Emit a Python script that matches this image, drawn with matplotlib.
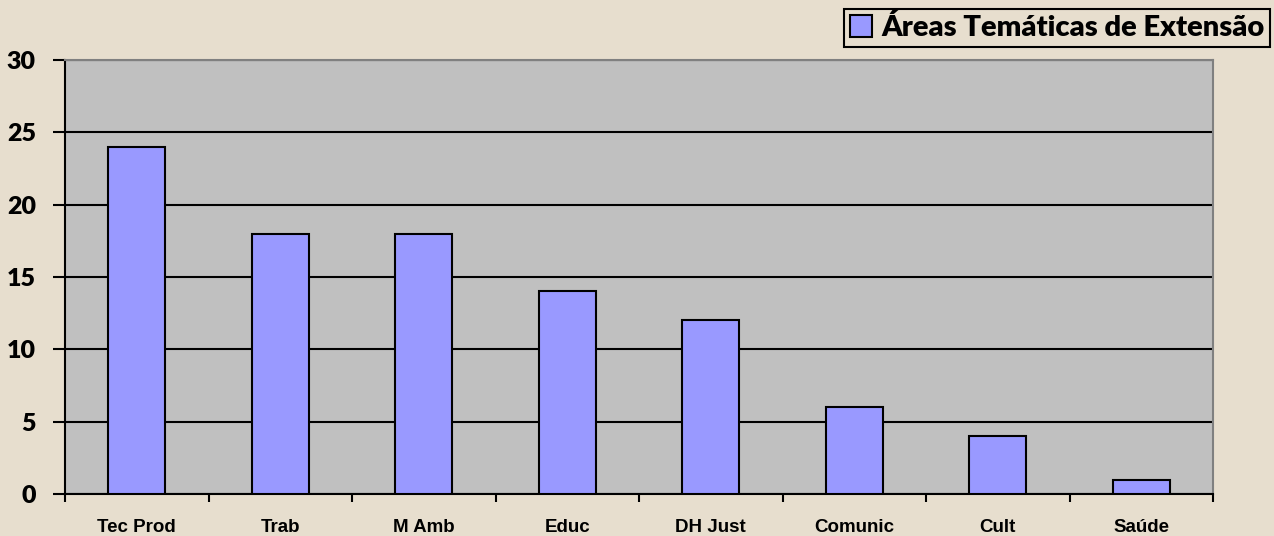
from matplotlib import pyplot as plt
import numpy as np

categories = ['Tec Prod', 'Trab', 'M Amb', 'Educ', 'DH Just', 'Comunic', 'Cult', 'Saúde']
values = [24, 18, 18, 14, 12, 6, 4, 1]
series_name = 'Áreas Temáticas de Extensão'
y_ticks = [0, 5, 10, 15, 20, 25, 30]

bg = '#e7dece'

def main():
    fig = plt.figure(figsize=(12.74, 5.36), dpi=100, facecolor=bg)
    ax = fig.add_axes([65 / 1274, 42 / 536, (1213 - 65) / 1274, (494 - 60) / 536])
    ax.set_facecolor('#c0c0c0')

    x = np.arange(len(categories))
    ax.bar(x, values, width=0.4, color='#9999ff', edgecolor='black',
           linewidth=1.5, zorder=3, label=series_name)

    ax.set_xlim(-0.5, len(categories) - 0.5)
    ax.set_ylim(0, 30)
    ax.set_yticks(y_ticks)
    ax.set_yticklabels([str(t) for t in y_ticks], fontsize=18,
                       fontweight='heavy', family='Lato')
    ax.yaxis.grid(True, color='black', linewidth=1.5, zorder=1)
    ax.set_axisbelow(True)

    # ticks on category boundaries, labels centred
    ax.set_xticks(np.arange(-0.5, len(categories), 1.0))
    ax.set_xticklabels([])
    ax.set_xticks(x, minor=True)
    ax.set_xticklabels(categories, minor=True, fontsize=13.5,
                       fontweight='bold', family='Liberation Sans')
    ax.tick_params(axis='x', which='minor', length=0, pad=18)
    ax.tick_params(axis='x', which='major', length=6, width=1.5, direction='out')
    ax.tick_params(axis='y', length=9, width=1.5, direction='out', pad=12)

    for s in ['left', 'bottom']:
        ax.spines[s].set_linewidth(1.5)
        ax.spines[s].set_color('black')
    for s in ['top', 'right']:
        ax.spines[s].set_color('#808080')
        ax.spines[s].set_linewidth(1.5)

    leg = fig.legend(loc='upper right', bbox_to_anchor=(1270 / 1274, 1 - 9 / 536),
                     frameon=True, fancybox=False, edgecolor='black',
                     facecolor=bg, framealpha=1, handlelength=0.75,
                     handleheight=0.75, handletextpad=0.3, borderpad=0.2,
                     borderaxespad=0,
                     prop={'family': 'Lato', 'weight': 'heavy', 'size': 21})
    leg.get_frame().set_linewidth(1.5)

    fig.savefig('out.png', dpi=100, facecolor=bg)

if __name__ == "__main__":
    main()
